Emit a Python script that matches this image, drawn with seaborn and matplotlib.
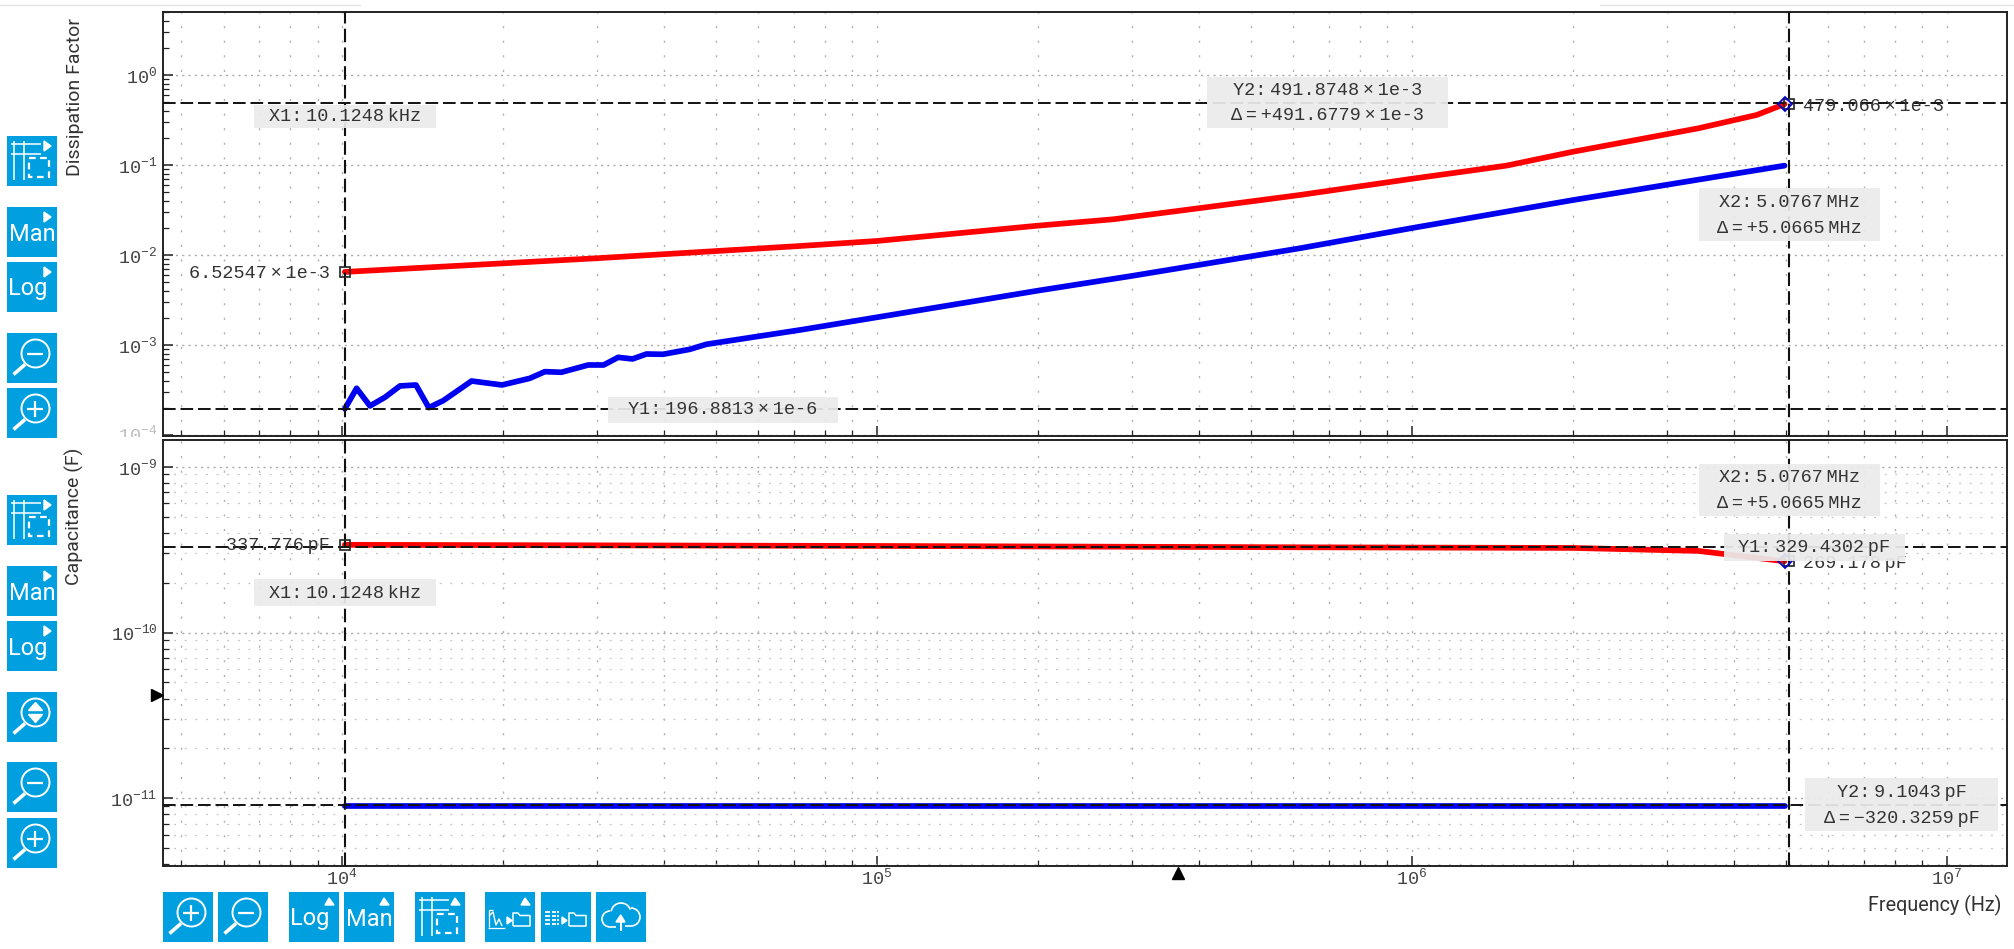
import numpy as np
import pandas as pd
import matplotlib
matplotlib.use("Agg")
import matplotlib.pyplot as plt
import seaborn as sns
from matplotlib.patches import Rectangle, Circle, Arc, Polygon
from matplotlib.ticker import FixedLocator, FuncFormatter, NullFormatter
from matplotlib.transforms import Bbox, TransformedBbox

# values, kept as log10 of the quantity
df_red_freq_exp = [4.005, 4.476, 4.856, 5.000, 5.301, 5.442, 5.601, 5.791, 5.998, 6.177, 6.302, 6.536, 6.645, 6.697]
df_red_val_exp = [-2.185, -2.033, -1.897, -1.841, -1.671, -1.600, -1.478, -1.330, -1.152, -1.004, -0.849, -0.589, -0.441, -0.320]
df_blue_freq_exp = [4.005, 4.027, 4.052, 4.080, 4.108, 4.138, 4.162, 4.189, 4.242, 4.299, 4.351, 4.379, 4.410,
                    4.460, 4.489, 4.516, 4.543, 4.569, 4.600, 4.650, 4.681, 4.856, 5.000, 5.301, 5.476, 5.791,
                    5.998, 6.302, 6.697]
df_blue_val_exp = [-3.706, -3.478, -3.674, -3.578, -3.452, -3.441, -3.693, -3.615, -3.397, -3.441, -3.367, -3.293, -3.300,
                   -3.219, -3.219, -3.134, -3.152, -3.097, -3.100, -3.045, -2.989, -2.830, -2.689, -2.393, -2.230, -1.922,
                   -1.700, -1.386, -1.004]
cap_red_freq_exp = [4.005, 5.000, 5.791, 6.302, 6.536, 6.697]
cap_red_val_exp = [-9.471, -9.478, -9.486, -9.490, -9.508, -9.570]
cap_blue_freq_exp = [4.005, 5.000, 6.000, 6.697]
cap_blue_val_exp = [-11.046, -11.046, -11.046, -11.046]

x1_freq = 10.1248e3
x2_freq = 5.0767e6
df_y1 = 196.8813e-6
df_y2 = 491.8748e-3
cap_y1 = 329.4302e-12
cap_y2 = 9.1043e-12
df_read_x1 = 6.52547e-3
df_read_x2 = 479.066e-3
cap_read_x1 = 337.776e-12
cap_read_x2 = 269.178e-12

W, H = 2015, 949
BTN = "#00a0e0"
MONO = ["Liberation Mono", "DejaVu Sans"]
THIN = "\u2009"

sns.set_theme(style="white")
plt.rcParams["font.family"] = ["Roboto", "DejaVu Sans"]
plt.rcParams["axes.edgecolor"] = "#222222"


def make_frame(freq_exp, val_exp, trace):
    return pd.DataFrame({"freq": 10.0 ** np.array(freq_exp), "value": 10.0 ** np.array(val_exp), "trace": trace})


def log_label(v, pos):
    return r"$\mathdefault{10^{%d}}$" % round(np.log10(v))


def style_axis(ax, xlim, ylim, yticks):
    ax.set_xscale("log")
    ax.set_yscale("log")
    ax.set_xlim(*xlim)
    ax.set_ylim(*ylim)
    ax.xaxis.set_major_locator(FixedLocator([1e4, 1e5, 1e6, 1e7]))
    ax.xaxis.set_minor_locator(FixedLocator([m * 10.0 ** e for e in range(3, 8) for m in range(2, 10)]))
    ax.yaxis.set_major_locator(FixedLocator(yticks))
    ax.yaxis.set_minor_locator(FixedLocator([m * 10.0 ** e for e in range(-13, 2) for m in range(2, 10)]))
    ax.xaxis.set_minor_formatter(NullFormatter())
    ax.yaxis.set_minor_formatter(NullFormatter())
    ax.tick_params(which="major", direction="in", length=7.2, width=1.1, color="#222222", left=True, bottom=True,
                   pad=4, labelsize=13.3, labelcolor="#444444", labelfontfamily="Liberation Mono")
    ax.tick_params(which="minor", direction="in", length=4, width=0.9, color="#222222", left=True, bottom=True)
    ax.set_axisbelow(True)
    ax.grid(True, which="major", axis="y", color="#aaaaaa", linewidth=1.0, linestyle=(0, (1.5, 3)))
    ax.grid(True, which="both", axis="x", color="#b0b0b0", linewidth=1.0, linestyle=(0, (1.5, 9)))
    for s in ax.spines.values():
        s.set_linewidth(1.4)
        s.set_color("#222222")


def cursors(ax, y1, y2):
    for xv in [x1_freq, x2_freq]:
        ax.axvline(xv, color="#111111", linewidth=1.5, linestyle=(0, (6.5, 2.5)), zorder=4)
    for yv in [y1, y2]:
        ax.axhline(yv, color="#111111", linewidth=1.4, linestyle=(0, (6.5, 2.5)), zorder=4)


def read_markers(ax, read_x1, read_x2):
    ax.plot([x1_freq, x2_freq], [read_x1, read_x2], linestyle="none", marker="s", markersize=7, mfc="none",
            mec="#222222", mew=1.2, zorder=5)
    ax.plot([10 ** 6.697], [read_x2], linestyle="none", marker="D", markersize=7, mfc="none", mec="#0000cc", mew=1.3,
            zorder=5)


fig = plt.figure(figsize=(W / 100, H / 100), dpi=100, facecolor="white")
ax_df = fig.add_axes([163 / W, 1 - 436 / H, (2007 - 163) / W, (436 - 12) / H])
ax_cap = fig.add_axes([163 / W, 1 - 866 / H, (2007 - 163) / W, (866 - 440) / H])

df_top = pd.concat([make_frame(df_blue_freq_exp, df_blue_val_exp, "blue"), make_frame(df_red_freq_exp, df_red_val_exp, "red")])
df_bot = pd.concat([make_frame(cap_blue_freq_exp, cap_blue_val_exp, "blue"), make_frame(cap_red_freq_exp, cap_red_val_exp, "red")])
palette = {"red": "#ff0000", "blue": "#0000f0"}
sns.lineplot(data=df_top, x="freq", y="value", hue="trace", palette=palette, estimator=None, sort=False,
             linewidth=4.1, legend=False, ax=ax_df)
sns.lineplot(data=df_bot, x="freq", y="value", hue="trace", palette=palette, estimator=None, sort=False,
             linewidth=4.1, legend=False, ax=ax_cap)

xlim = (10 ** 3.665, 10 ** 7.113)
style_axis(ax_df, xlim, (10 ** -4.008, 10 ** 0.703), [1e-4, 1e-3, 1e-2, 1e-1, 1e0])
style_axis(ax_cap, xlim, (10 ** -11.408, 10 ** -8.839), [1e-11, 1e-10, 1e-9])
ax_cap.grid(True, which="minor", axis="y", color="#c4c4c4", linewidth=0.9, linestyle=(0, (1.5, 7)))

ax_df.yaxis.set_major_formatter(FuncFormatter(lambda v, p: "" if v < 5e-4 else log_label(v, p)))
ax_cap.yaxis.set_major_formatter(FuncFormatter(log_label))
ax_cap.xaxis.set_major_formatter(FuncFormatter(log_label))
ax_df.tick_params(axis="x", which="both", labelbottom=False)
ax_cap.tick_params(axis="x", which="major", pad=1)

ax_df.set_xlabel("")
ax_df.set_ylabel("Dissipation Factor", fontsize=14, color="#333333", va="center")
ax_df.yaxis.set_label_coords(-0.0478, 0.80)
ax_cap.set_ylabel("Capacitance (F)", fontsize=14, color="#333333", va="center")
ax_cap.yaxis.set_label_coords(-0.0478, 0.822)
ax_cap.set_xlabel("Frequency (Hz)", fontsize=14.2, color="#333333", va="center")
ax_cap.xaxis.set_label_coords(0.961, -0.0915)

cursors(ax_df, df_y1, df_y2)
cursors(ax_cap, cap_y1, cap_y2)
read_markers(ax_df, df_read_x1, df_read_x2)
read_markers(ax_cap, cap_read_x1, cap_read_x2)

# 10^-4 label is cut by the lower panel and faded
faded = ax_df.text(-0.0033, 1e-4, r"$\mathdefault{10^{-4}}$", transform=ax_df.get_yaxis_transform(), ha="right",
                   va="center", fontsize=13.3, color="#bdbdbd", family="Liberation Mono", clip_on=True)
faded.set_clip_box(TransformedBbox(Bbox([[0, 1 - 437 / H], [1, 1]]), fig.transFigure))

# overlay in pixel coordinates for the instrument controls and cursor readouts
ui = fig.add_axes([0, 0, 1, 1], zorder=5)
ui.set_xlim(0, W)
ui.set_ylim(H, 0)
ui.axis("off")
ui.patch.set_alpha(0)

ui.plot([0, 360], [4.5, 4.5], color="#e4e4e4", linewidth=1)
ui.plot([1600, 2015], [4.5, 4.5], color="#e4e4e4", linewidth=1)


def readout(text, x, y):
    ui.text(x, y, text, ha="center", va="center", fontsize=13.3, color="#333333", family=MONO, zorder=2)


def label_box(x0, y0, x1, y1, lines):
    ui.add_patch(Rectangle((x0, y0), x1 - x0, y1 - y0, facecolor="#ebebeb", edgecolor="none", alpha=0.93, zorder=3))
    for text, yy in lines:
        ui.text((x0 + x1) / 2, yy, text, ha="center", va="center", fontsize=13.3, color="#333333", family=MONO, zorder=4)


DELTA = "Δ" + THIN + "=" + THIN
mono_x1 = "X1:" + THIN + "10.1248" + THIN + "kHz"
mono_x2 = "X2:" + THIN + "5.0767" + THIN + "MHz"
mono_dx = DELTA + "+5.0665" + THIN + "MHz"

readout("6.52547" + THIN + "×" + THIN + "1e-3", 260, 273)
readout("479.066" + THIN + "×" + THIN + "1e-3", 1874, 106)
readout("337.776" + THIN + "pF", 278, 546)
readout("269.178" + THIN + "pF", 1855, 564)

label_box(254, 105, 436, 128, [(mono_x1, 116)])
label_box(1207, 77, 1448, 128, [("Y2:" + THIN + "491.8748" + THIN + "×" + THIN + "1e-3", 90.7),
                                (DELTA + "+491.6779" + THIN + "×" + THIN + "1e-3", 115)])
label_box(1699, 188, 1880, 241, [(mono_x2, 202), (mono_dx, 228)])
label_box(608, 397, 838, 423, [("Y1:" + THIN + "196.8813" + THIN + "×" + THIN + "1e-6", 410)])
label_box(254, 579, 436, 606, [(mono_x1, 593)])
label_box(1699, 464, 1880, 516, [(mono_x2, 477.3), (mono_dx, 503.3)])
label_box(1724, 534, 1905, 561, [("Y1:" + THIN + "329.4302" + THIN + "pF", 548)])
label_box(1805, 778, 1998, 831, [("Y2:" + THIN + "9.1043" + THIN + "pF", 792.7),
                                 (DELTA + "−320.3259" + THIN + "pF", 818.7)])

ui.plot([157], [695], marker=">", color="black", markersize=8, linestyle="none")
ui.plot([1178], [873], marker="^", color="black", markersize=8, linestyle="none")


def seg(xs, ys, lw=1.5):
    ui.plot(xs, ys, color="white", linewidth=lw, solid_capstyle="butt", zorder=7)


def button(x, y, arrow=None):
    ui.add_patch(Rectangle((x, y), 50, 50, facecolor=BTN, edgecolor="none", zorder=6))
    if arrow == "right":
        ui.add_patch(Polygon([[x + 37, y + 5], [x + 44, y + 10], [x + 37, y + 15]], facecolor="white", zorder=7))
    elif arrow == "up":
        ui.add_patch(Polygon([[x + 36, y + 13], [x + 40, y + 6], [x + 45, y + 13]], facecolor="white", zorder=7))


def mag_button(x, y, kind):
    button(x, y)
    cx, cy = x + 28.5, y + 20.5
    ui.add_patch(Circle((cx, cy), 14, fill=False, edgecolor="white", linewidth=1.4, zorder=7))
    seg([x + 6.5, x + 18], [y + 41.5, y + 31.5], lw=2.6)
    if kind in ("plus", "minus"):
        seg([cx - 8, cx + 8], [cy, cy], lw=1.6)
    if kind == "plus":
        seg([cx, cx], [cy - 8, cy + 8], lw=1.6)
    if kind == "updown":
        ui.add_patch(Polygon([[cx - 7, cy - 2], [cx, cy - 10], [cx + 7, cy - 2]], facecolor="white", zorder=7))
        ui.add_patch(Polygon([[cx - 7, cy + 2], [cx, cy + 10], [cx + 7, cy + 2]], facecolor="white", zorder=7))


def text_button(x, y, text, arrow):
    button(x, y, arrow)
    ui.text(x + 25 - (4 if text == "Log" else 0), y + 27, text, ha="center", va="center", color="white",
            fontsize=17, family="Roboto", zorder=7)


def grid_button(x, y, arrow):
    button(x, y, arrow)
    for dx in [7.3, 17.3]:
        seg([x + dx, x + dx], [y + 5, y + 44], lw=1.1)
    for dy in [8.3, 18.3]:
        seg([x + 4.3, x + 34], [y + dy, y + dy], lw=1.1)
    ui.add_patch(Rectangle((x + 22.5, y + 22), 20, 19, fill=False, edgecolor="white", linewidth=1.6,
                           linestyle=(0, (3, 2)), zorder=7))


def folder(x, y):
    seg([x, x, x + 5, x + 7, x + 17, x + 17, x], [y + 13, y, y, y + 2.5, y + 2.5, y + 13, y + 13], lw=1.1)


def curve_button(x, y):
    button(x, y, "up")
    seg([x + 4, x + 4, x + 8], [y + 35, y + 18, y + 18], lw=0.9)
    seg([x + 4, x + 8, x + 11, x + 14, x + 17], [y + 24, y + 20, y + 33, y + 27, y + 34], lw=1.0)
    seg([x + 3, x + 20], [y + 35.5, y + 35.5], lw=0.9)
    ui.add_patch(Polygon([[x + 22, y + 25], [x + 27, y + 28.5], [x + 22, y + 32]], facecolor="white", zorder=7))
    folder(x + 28, y + 21)


def table_button(x, y):
    button(x, y)
    for dy in range(20, 33, 4):
        seg([x + 4, x + 9], [y + dy, y + dy], lw=1.3)
        seg([x + 11, x + 15], [y + dy, y + dy], lw=1.3)
        seg([x + 16.5, x + 18], [y + dy, y + dy], lw=1.3)
    ui.add_patch(Polygon([[x + 21, y + 25], [x + 26, y + 28.5], [x + 21, y + 32]], facecolor="white", zorder=7))
    folder(x + 28, y + 21)


def cloud_button(x, y):
    button(x, y)
    arcs = [((14, 27), 16, 16, 90, 270), ((25, 21), 20, 20, 190, 340), ((35, 25), 18, 18, 270, 90)]
    for (ax_, ay), w_, h_, t1, t2 in arcs:
        ui.add_patch(Arc((x + ax_, y + ay), w_, h_, theta1=t1, theta2=t2, edgecolor="white", linewidth=1.2, zorder=7))
    seg([x + 14, x + 20], [y + 35, y + 35], lw=1.2)
    seg([x + 29, x + 35], [y + 34, y + 34], lw=1.2)
    seg([x + 24.7, x + 24.7], [y + 28, y + 39], lw=1.4)
    ui.add_patch(Polygon([[x + 20, y + 30], [x + 24.7, y + 23], [x + 29, y + 30]], facecolor="white", zorder=7))


# left column, upper panel
grid_button(7, 136, "right")
text_button(7, 207, "Man", "right")
text_button(7, 262, "Log", "right")
mag_button(7, 333, "minus")
mag_button(7, 388, "plus")
# left column, lower panel
grid_button(7, 495, "right")
text_button(7, 566, "Man", "right")
text_button(7, 621, "Log", "right")
mag_button(7, 692, "updown")
mag_button(7, 762, "minus")
mag_button(7, 818, "plus")
# bottom row
mag_button(163, 892, "plus")
mag_button(218, 892, "minus")
text_button(289, 892, "Log", "up")
text_button(344, 892, "Man", "up")
grid_button(415, 892, "up")
curve_button(485, 892)
table_button(541, 892)
cloud_button(596, 892)

fig.savefig("out.png", dpi=100, facecolor="white")
